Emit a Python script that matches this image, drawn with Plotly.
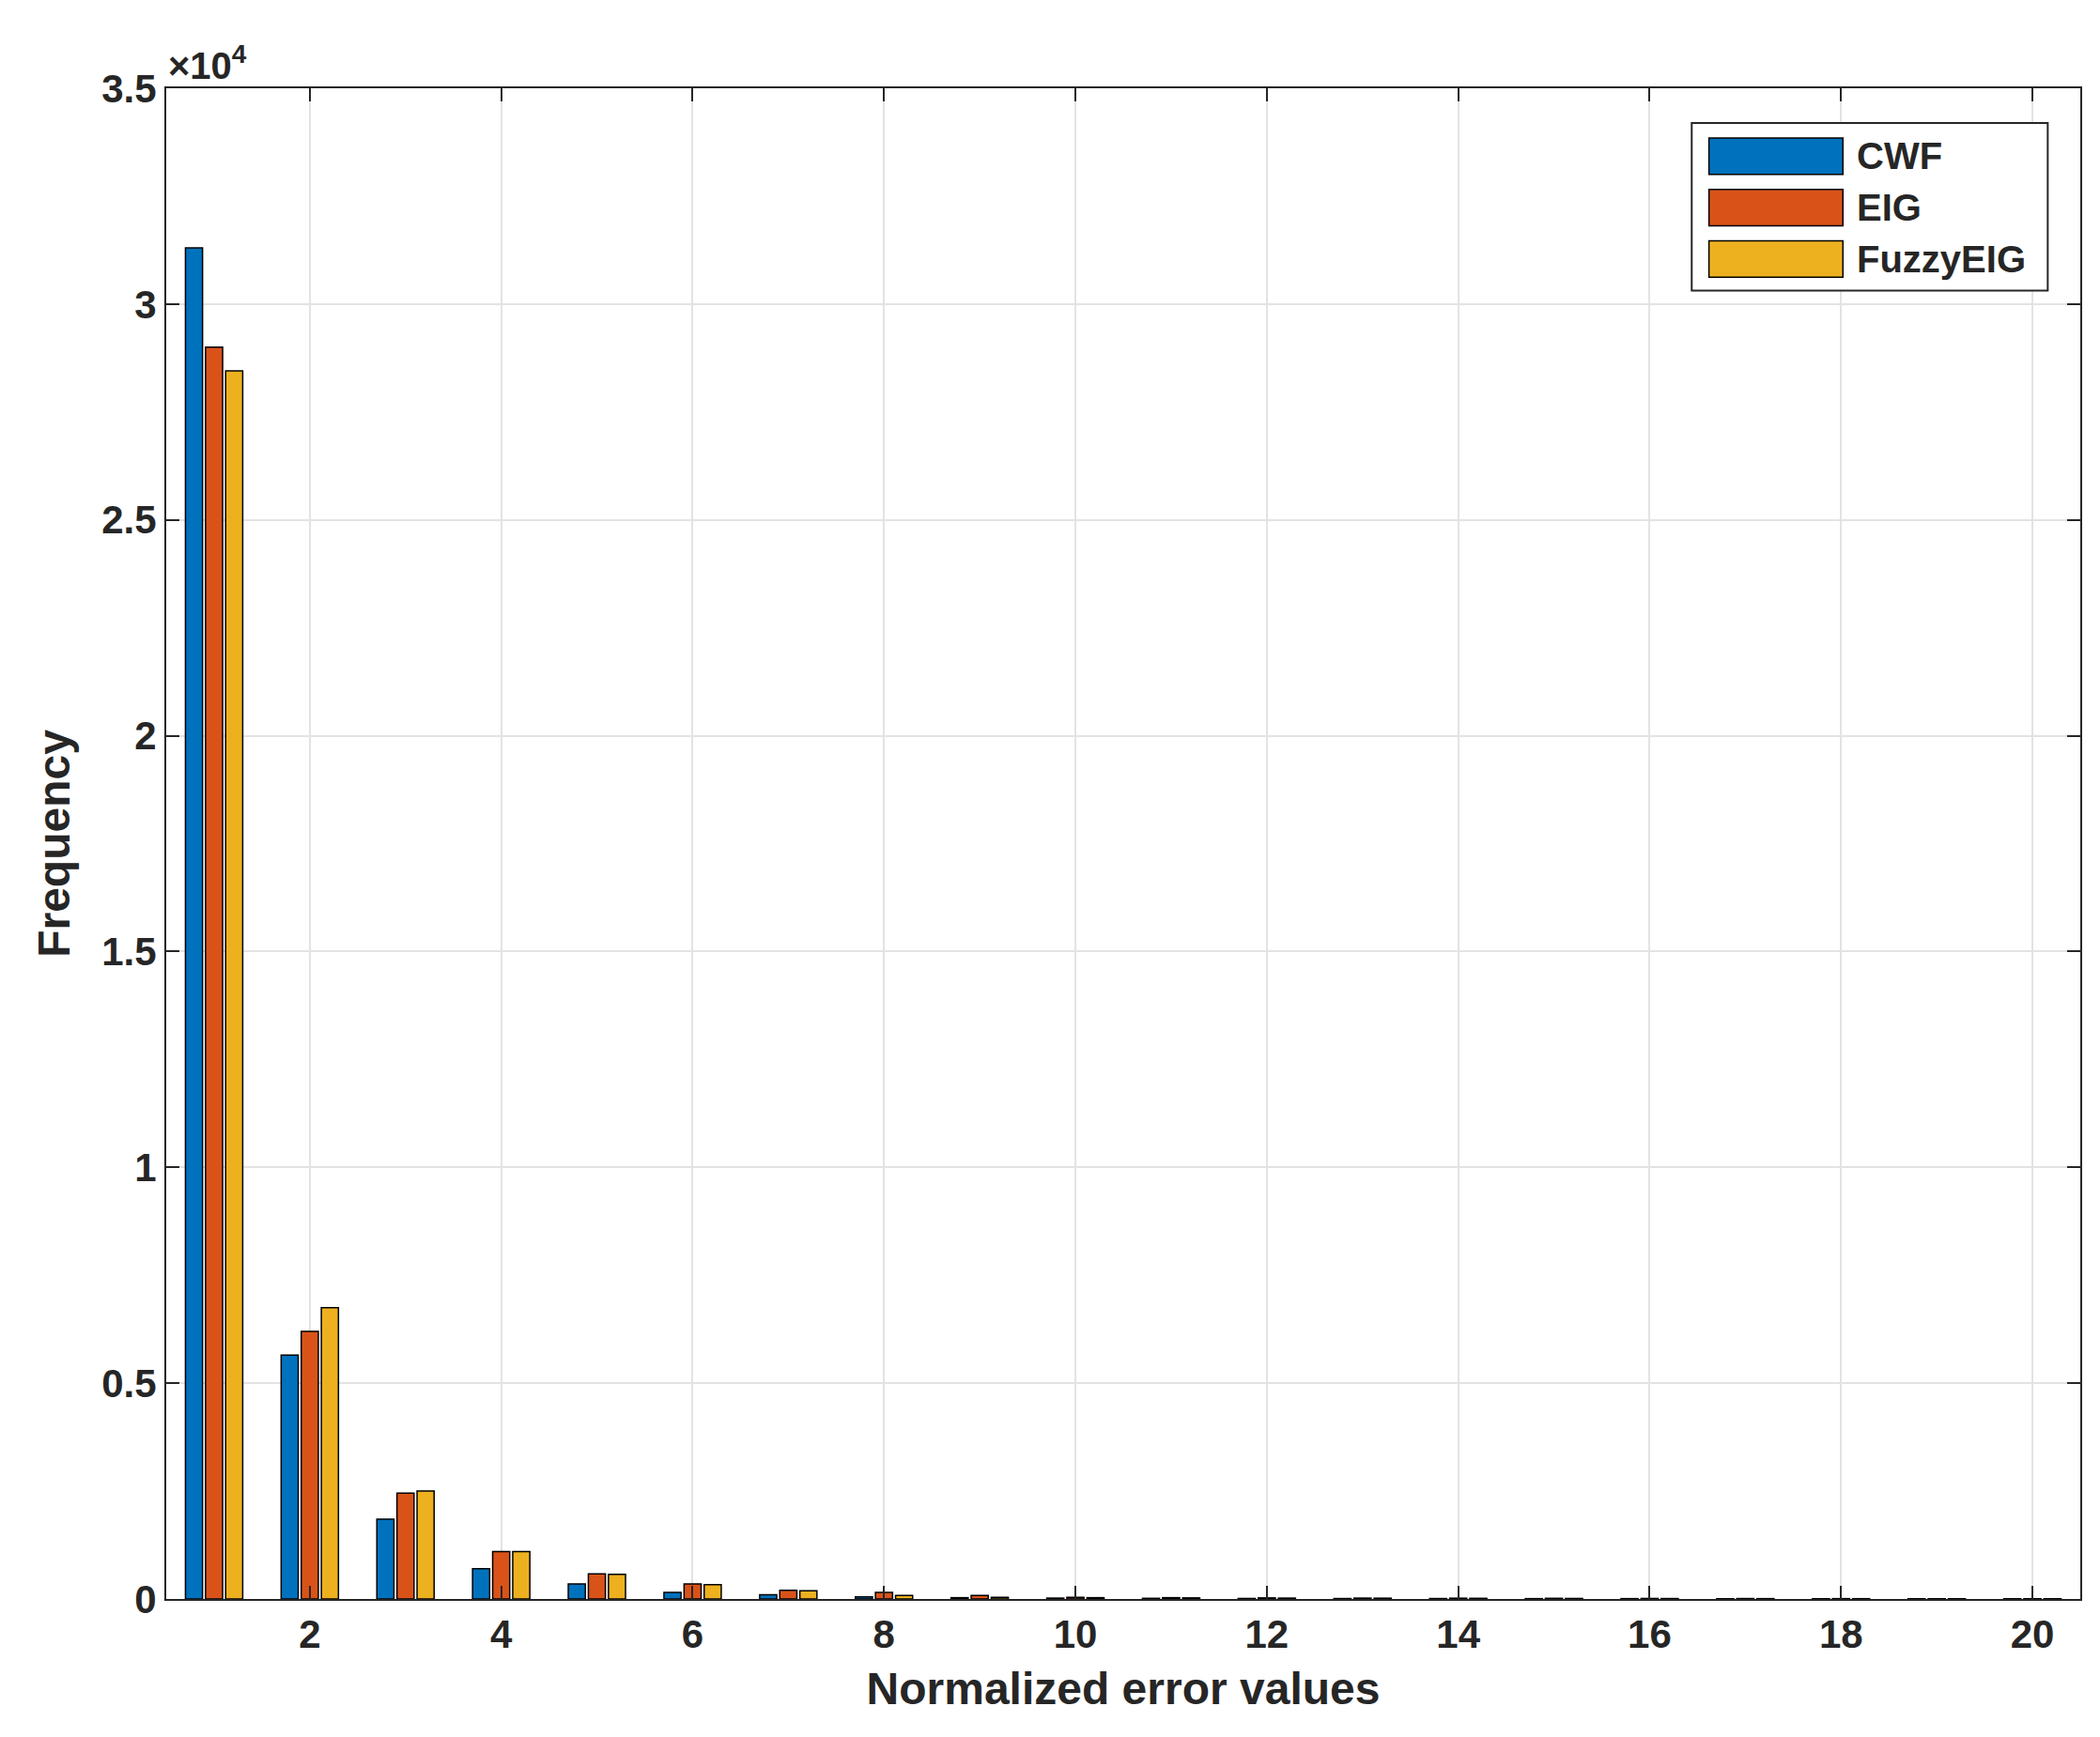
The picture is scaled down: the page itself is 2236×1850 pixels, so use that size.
import plotly.graph_objects as go

bins = list(range(1, 21))
cwf = [31300, 5650, 1850, 700, 350, 150, 100, 50, 30, 20, 15, 12, 10, 10, 8, 8, 6, 6, 5, 5]
eig = [29000, 6200, 2450, 1100, 580, 350, 200, 150, 80, 40, 30, 25, 20, 18, 15, 12, 10, 8, 6, 6]
fuzzy = [28450, 6750, 2500, 1100, 570, 330, 190, 80, 40, 30, 25, 20, 18, 15, 12, 10, 8, 7, 6, 5]
names = ["CWF", "EIG", "FuzzyEIG"]
colors = ["#0072BD", "#D95319", "#EDB120"]
yticks = [0, 5000, 10000, 15000, 20000, 25000, 30000, 35000]
yticklabels = ["0", "0.5", "1", "1.5", "2", "2.5", "3", "3.5"]
xticks = [2, 4, 6, 8, 10, 12, 14, 16, 18, 20]

fig = go.Figure()
for n, v, c in zip(names, [cwf, eig, fuzzy], colors):
    fig.add_bar(x=bins, y=v, name=n, showlegend=False,
                marker=dict(color=c, line=dict(color="black", width=1.5)))

F = "Liberation Sans, Arial, sans-serif"
ax = dict(showline=True, linecolor="#262626", linewidth=2, mirror="ticks", ticks="inside",
          ticklen=14, tickwidth=2, tickcolor="#262626", showgrid=True, gridcolor="#e3e3e3",
          gridwidth=1.5, zeroline=False,
          tickfont=dict(family=F, size=42, color="#262626"))

# manual legend (paper coordinates)
shapes = [dict(type="rect", xref="paper", yref="paper", x0=0.797, x1=0.983, y0=0.866, y1=0.977,
               line=dict(color="#262626", width=2), fillcolor="white", layer="above")]
annotations = [dict(text="<b>×10<sup>4</sup></b>", xref="paper", yref="paper", x=0, y=1.0,
                    xanchor="left", yanchor="bottom", showarrow=False,
                    font=dict(size=40, family=F, color="#262626"))]
for i, (n, c) in enumerate(zip(names, colors)):
    yc = 0.955 - i * 0.034
    shapes.append(dict(type="rect", xref="paper", yref="paper", x0=0.806, x1=0.876,
                       y0=yc - 0.012, y1=yc + 0.012, fillcolor=c,
                       line=dict(color="black", width=1.5), layer="above"))
    annotations.append(dict(text=f"<b>{n}</b>", xref="paper", yref="paper", x=0.882, y=yc,
                            xanchor="left", yanchor="middle", showarrow=False,
                            font=dict(size=40, family=F, color="#262626")))

fig.update_layout(
    width=2236, height=1850, plot_bgcolor="white", paper_bgcolor="white",
    margin=dict(l=169, r=29, t=86, b=155),
    barmode="group", bargap=0.37, bargroupgap=0.15,
    font=dict(family=F, color="#262626"),
    xaxis=dict(ax, range=[0.5, 20.5], tickvals=xticks, ticktext=[f"<b>{t}</b>" for t in xticks],
               title=dict(text="<b>Normalized error values</b>", font=dict(size=48), standoff=18)),
    yaxis=dict(ax, range=[0, 35000], tickvals=yticks, ticktext=[f"<b>{t}</b>" for t in yticklabels],
               title=dict(text="<b>Frequency</b>", font=dict(size=48), standoff=18)),
    shapes=shapes, annotations=annotations,
)
fig.write_html("out.html")
